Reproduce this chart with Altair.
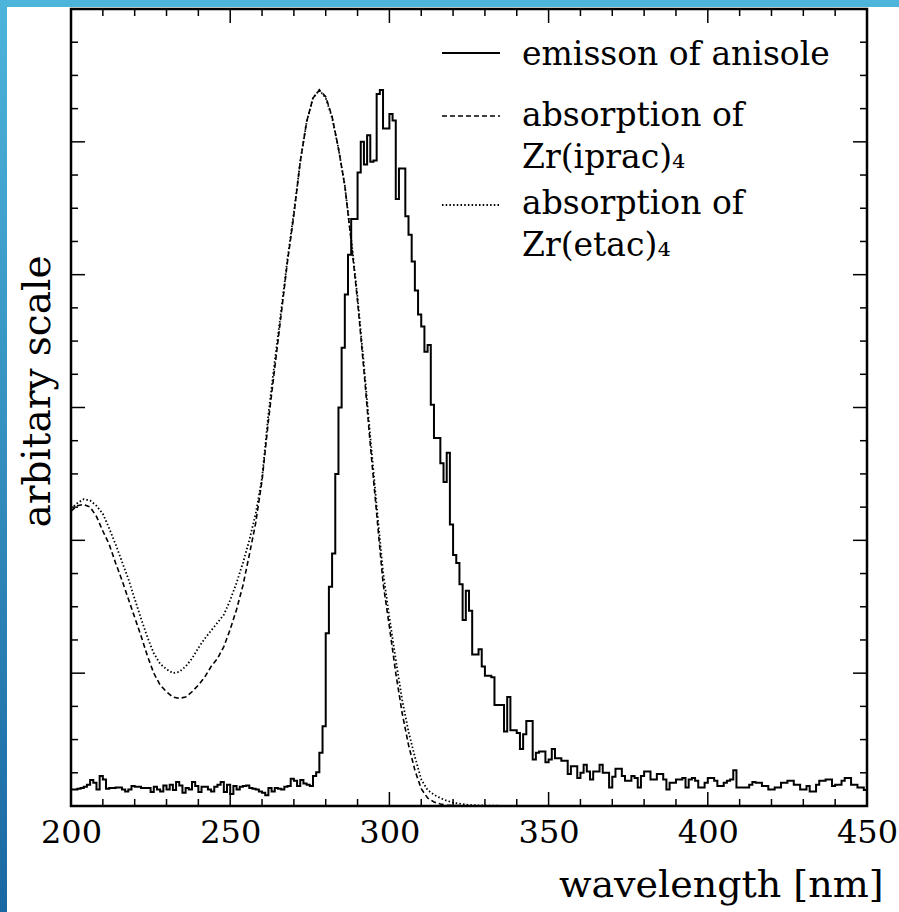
import altair as alt
import pandas as pd

# ---------------- data ----------------
# emission of anisole: histogram, 1 nm bins, left edges 200..449
emission = [
    0.125, 0.125, 0.13, 0.135, 0.145, 0.16, 0.195, 0.175, 0.125, 0.225,
    0.2, 0.13, 0.135, 0.135, 0.14, 0.14, 0.125, 0.11, 0.125, 0.15,
    0.145, 0.145, 0.135, 0.135, 0.135, 0.105, 0.145, 0.125, 0.11, 0.155,
    0.125, 0.16, 0.12, 0.18, 0.155, 0.1, 0.135, 0.125, 0.18, 0.15,
    0.105, 0.145, 0.145, 0.125, 0.11, 0.145, 0.16, 0.18, 0.105, 0.16,
    0.09, 0.15, 0.125, 0.145, 0.15, 0.155, 0.135, 0.13, 0.125, 0.11,
    0.1, 0.08, 0.135, 0.11, 0.135, 0.13, 0.125, 0.145, 0.15, 0.205,
    0.19, 0.15, 0.195, 0.17, 0.16, 0.15, 0.225, 0.255, 0.4, 0.6,
    1.3, 1.65, 1.9, 2.5, 3.0, 3.45, 3.85, 4.15, 4.42, 4.42,
    4.77, 5.0, 4.83, 5.05, 4.85, 4.86, 5.36, 5.39, 5.1, 5.1,
    5.21, 5.16, 4.57, 4.8, 4.8, 4.44, 4.3, 4.1, 3.88, 3.7,
    3.61, 3.42, 3.47, 3.02, 2.77, 2.77, 2.58, 2.44, 2.66, 2.12,
    1.89, 1.83, 1.67, 1.40, 1.62, 1.47, 1.14, 1.14, 1.18, 1.05,
    0.98, 0.98, 0.97, 0.76, 0.76, 0.76, 0.56, 0.82, 0.57, 0.57,
    0.55, 0.43, 0.54, 0.64, 0.64, 0.35, 0.4, 0.41, 0.41, 0.33,
    0.35, 0.43, 0.36, 0.36, 0.34, 0.34, 0.24, 0.3, 0.3, 0.21,
    0.25, 0.31, 0.26, 0.2, 0.26, 0.26, 0.31, 0.25, 0.25, 0.14,
    0.22, 0.28, 0.28, 0.225, 0.19, 0.19, 0.225, 0.21, 0.14, 0.225,
    0.26, 0.26, 0.2, 0.2, 0.24, 0.24, 0.2, 0.125, 0.175, 0.175,
    0.2, 0.2, 0.21, 0.14, 0.2, 0.21, 0.19, 0.14, 0.14, 0.175,
    0.21, 0.21, 0.19, 0.15, 0.15, 0.175, 0.19, 0.2, 0.27, 0.14,
    0.14, 0.14, 0.14, 0.16, 0.18, 0.175, 0.175, 0.15, 0.15, 0.125,
    0.125, 0.14, 0.14, 0.175, 0.175, 0.19, 0.19, 0.16, 0.16, 0.125,
    0.125, 0.15, 0.11, 0.11, 0.16, 0.19, 0.19, 0.2, 0.2, 0.15,
    0.16, 0.16, 0.19, 0.21, 0.21, 0.16, 0.16, 0.14, 0.14, 0.12,
]
emission_start = 200

# absorption spectra (wavelength in nm)
abs_wl = list(range(200, 321, 2)) + [325, 330] + list(range(340, 451, 10))
abs_iprac = [
    2.22, 2.26, 2.27, 2.25, 2.18, 2.07, 1.97, 1.83, 1.70, 1.56,
    1.42, 1.28, 1.13, 1.0, 0.91, 0.86, 0.82, 0.81, 0.82, 0.86,
    0.91, 0.97, 1.05, 1.11, 1.2, 1.33, 1.48, 1.66, 1.89, 2.13,
    2.45, 2.9, 3.3, 3.7, 4.1, 4.45, 4.85, 5.15, 5.33, 5.39,
    5.34, 5.19, 4.95, 4.67, 4.25, 3.8, 3.28, 2.72, 2.2, 1.68,
    1.35, 1.0, 0.7, 0.46, 0.27, 0.13, 0.06, 0.03, 0.015, 0.008,
    0.004,
    0.002, 0.0,
    0.0, 0.0, 0.0, 0.0, 0.0, 0.0, 0.0, 0.0, 0.0, 0.0, 0.0, 0.0,
]
abs_etac = [
    2.24, 2.28, 2.31, 2.3, 2.26, 2.2, 2.09, 1.97, 1.84, 1.71,
    1.56, 1.41, 1.27, 1.15, 1.07, 1.03, 1.0, 1.01, 1.05, 1.11,
    1.19, 1.26, 1.32, 1.38, 1.44, 1.55, 1.68, 1.83, 2.0, 2.2,
    2.47, 2.95, 3.35, 3.73, 4.12, 4.47, 4.85, 5.15, 5.33, 5.39,
    5.33, 5.18, 4.95, 4.67, 4.27, 3.83, 3.32, 2.78, 2.26, 1.76,
    1.42, 1.1, 0.8, 0.56, 0.37, 0.2, 0.12, 0.085, 0.06, 0.04,
    0.025,
    0.008, 0.003,
    0.0, 0.0, 0.0, 0.0, 0.0, 0.0, 0.0, 0.0, 0.0, 0.0, 0.0, 0.0,
]

x_major = [200, 250, 300, 350, 400, 450]
x_minor = [v for v in range(200, 451, 10) if v % 50 != 0]
y_major = [1, 2, 3, 4, 5]
y_minor = [q / 4 for q in range(1, 24) if q % 4 != 0]

legend_labels = ["emisson of anisole", "absorption of\nZr(iprac)\u2084",
                 "absorption of\nZr(etac)\u2084"]

# ---------------- tables ----------------
em_wl = [emission_start + i for i in range(len(emission))] + [emission_start + len(emission)]
em_df = pd.DataFrame({"wl": em_wl, "v": emission + [emission[-1]]})
ip_df = pd.DataFrame({"wl": abs_wl, "v": abs_iprac})
et_df = pd.DataFrame({"wl": abs_wl, "v": abs_etac})

FONT = "DejaVu Serif"
W, H = 796, 797
xs = alt.Scale(domain=[200, 450], nice=False, zero=False)
ys = alt.Scale(domain=[0, 6], nice=False, zero=False)

x_axis = alt.Axis(values=x_major, ticks=False, domain=False, grid=False,
                  labelFont=FONT, labelFontSize=32, labelColor="black",
                  labelPadding=11, labelFlush=False, format="d",
                  title="wavelength [nm]", titleFont=FONT, titleFontSize=38,
                  titleFontWeight="normal", titleColor="black",
                  titleAnchor="end", titleAlign="right", titleBaseline="alphabetic",
                  titleX=812, titleY=90)
y_axis = alt.Axis(labels=False, ticks=False, domain=False, grid=False,
                  title="arbitary scale", titleFont=FONT, titleFontSize=39,
                  titleFontWeight="normal", titleColor="black",
                  titleAngle=270, titleAlign="right", titleBaseline="alphabetic",
                  titleX=-22, titleY=246)


def X():
    return alt.X("wl:Q", scale=xs, axis=x_axis)


def Y():
    return alt.Y("v:Q", scale=ys, axis=y_axis)


one = alt.Data(values=[{"k": 0}])

# decorative slide border (blue)
left_band = alt.Chart(one).mark_rect(
    color=alt.LinearGradient(gradient="linear", x1=0, x2=0, y1=0, y2=1,
                             stops=[alt.GradientStop(offset=0, color="#4cb4da"),
                                    alt.GradientStop(offset=1, color="#1a68a3")])
).encode(x=alt.value(-71), x2=alt.value(-64), y=alt.value(-9), y2=alt.value(903))
top_band = alt.Chart(one).mark_rect(color="#4db4da").encode(
    x=alt.value(-71), x2=alt.value(828), y=alt.value(-9), y2=alt.value(-2))

emis = alt.Chart(em_df).mark_line(interpolate="step-after", color="black",
                                  strokeWidth=2).encode(x=X(), y=Y())
iprac = alt.Chart(ip_df).mark_line(color="black", strokeWidth=1.6,
                                   strokeDash=[5, 3]).encode(x=X(), y=Y())
etac = alt.Chart(et_df).mark_line(color="black", strokeWidth=1.8,
                                  strokeDash=[1.5, 2.2]).encode(x=X(), y=Y())


def xticks(vals, length):
    d = pd.DataFrame({"wl": vals})
    bot = alt.Chart(d).mark_rule(color="black", strokeWidth=1.5).encode(
        x=X(), y=alt.value(H), y2=alt.value(H - length))
    top = alt.Chart(d).mark_rule(color="black", strokeWidth=1.5).encode(
        x=X(), y=alt.value(0), y2=alt.value(length))
    return [bot, top]


def yticks(vals, length):
    d = pd.DataFrame({"v": vals})
    left = alt.Chart(d).mark_rule(color="black", strokeWidth=1.5).encode(
        y=Y(), x=alt.value(0), x2=alt.value(length))
    right = alt.Chart(d).mark_rule(color="black", strokeWidth=1.5).encode(
        y=Y(), x=alt.value(W), x2=alt.value(W - length))
    return [left, right]


ticks = xticks(x_major, 14) + xticks(x_minor, 7) + yticks(y_major, 14) + yticks(y_minor, 7)

# legend
LX1, LX2, TX = 442 - 71, 500 - 71, 522 - 71
leg = [
    alt.Chart(one).mark_rule(color="black", strokeWidth=2).encode(
        x=alt.value(LX1), x2=alt.value(LX2), y=alt.value(53 - 9)),
    alt.Chart(one).mark_rule(color="black", strokeWidth=1.6, strokeDash=[5, 3]).encode(
        x=alt.value(LX1), x2=alt.value(LX2), y=alt.value(116 - 9)),
    alt.Chart(one).mark_rule(color="black", strokeWidth=1.8, strokeDash=[1.5, 2.2]).encode(
        x=alt.value(LX1), x2=alt.value(LX2), y=alt.value(205 - 9)),
]
leg_y = [65 - 9, 126 - 9, 214 - 9]
for lab, yy in zip(legend_labels, leg_y):
    leg.append(alt.Chart(one).mark_text(
        align="left", baseline="alphabetic", font=FONT, fontSize=33, color="black",
        lineBreak="\n", lineHeight=42).encode(
        x=alt.value(TX), y=alt.value(yy), text=alt.value(lab)))

chart = alt.layer(emis, left_band, top_band, iprac, etac, *ticks, *leg).properties(
    width=W, height=H,
    autosize=alt.AutoSizeParams(type="none"),
    padding={"left": 71, "top": 9, "right": 32, "bottom": 106},
    background="white",
).configure_view(stroke="black", strokeWidth=2.5)

chart.save("out.html", embed_options={"renderer": "svg", "actions": False})
